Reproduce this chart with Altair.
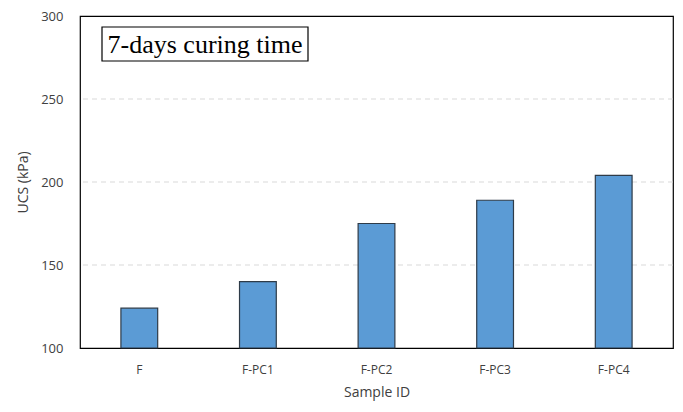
import altair as alt
import pandas as pd

samples = ["F", "F-PC1", "F-PC2", "F-PC3", "F-PC4"]
ucs = [124, 140, 175, 189, 204]
y_ticks = [100, 150, 200, 250, 300]
grid_vals = [150, 200, 250]
note = "7-days curing time"

df = pd.DataFrame({"sample": samples, "ucs": ucs, "base": [100] * len(samples)})

W, H = 593, 332
font = "Open Sans"

yscale = alt.Scale(domain=[100, 300], nice=False, zero=False)

grid = alt.Chart(pd.DataFrame({"g": grid_vals})).mark_rule(
    color="#D9D9D9", strokeDash=[5, 4], strokeWidth=1
).encode(y=alt.Y("g:Q", scale=yscale))

bars = alt.Chart(df).mark_bar(color="#5B9BD5", stroke="#2E3B48", strokeWidth=1.2).encode(
    x=alt.X("sample:N", sort=samples, title="Sample ID",
            scale=alt.Scale(paddingInner=0.69, paddingOuter=0.345),
            axis=alt.Axis(labelAngle=0, tickSize=0, labelPadding=16, labelFont=font,
                          labelFontSize=12, labelColor="#404040", titleFont=font,
                          titleFontSize=14, titleFontWeight="normal", titleColor="#404040",
                          titlePadding=10, domain=False, grid=False)),
    y=alt.Y("ucs:Q", title="UCS (kPa)", scale=yscale,
            axis=alt.Axis(values=y_ticks, tickSize=0, labelPadding=17, labelFont=font,
                          labelFontSize=13, labelColor="#404040", titleFont=font,
                          titleFontSize=14, titleFontWeight="normal", titleColor="#404040",
                          titlePadding=10, domain=False, grid=False)),
    y2="base:Q",
)

box = alt.Chart(pd.DataFrame({"t": [note]})).mark_rect(
    fill="white", stroke="black", strokeWidth=1.2
).encode(x=alt.value(22), x2=alt.value(228), y=alt.value(11), y2=alt.value(45))

txt = alt.Chart(pd.DataFrame({"t": [note]})).mark_text(
    font="Liberation Serif", fontSize=26, color="black", align="center", baseline="middle"
).encode(text="t:N", x=alt.value(125), y=alt.value(29))

chart = (grid + bars + box + txt).properties(
    width=W, height=H,
    autosize=alt.AutoSizeParams(type="none"),
    padding={"left": 72, "top": 8, "right": 2, "bottom": 56},
).configure_view(stroke="black", strokeWidth=1.2)

chart.save("out.html", embed_options={"renderer": "svg", "actions": False})
